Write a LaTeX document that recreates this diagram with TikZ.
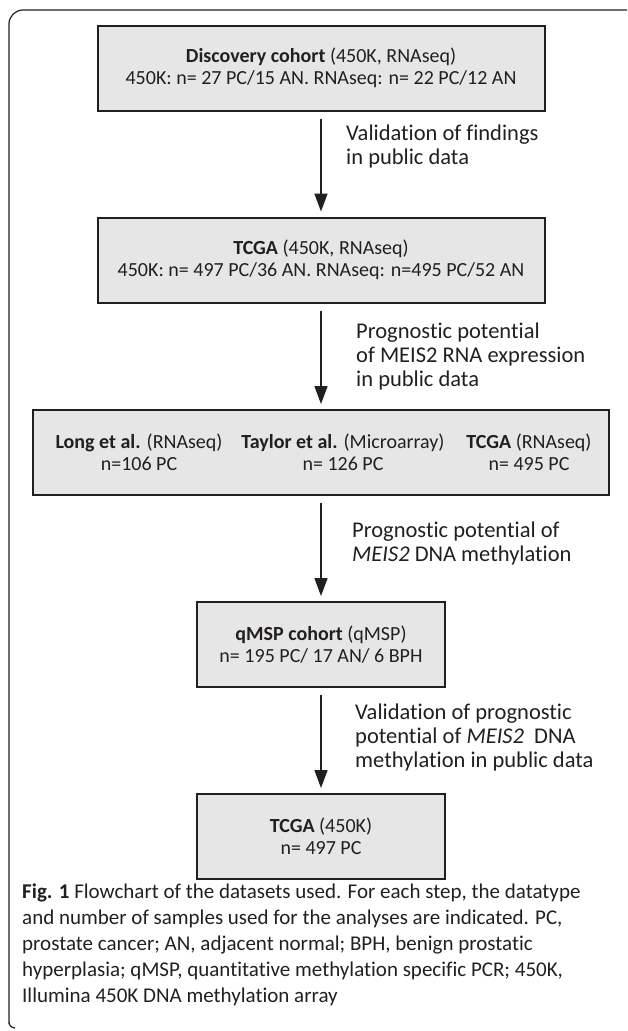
\documentclass[tikz,border=0pt]{standalone}
\usepackage{fontspec}
\setmainfont{Carlito}[Ligatures=NoCommon]
\usetikzlibrary{arrows.meta}
\definecolor{boxfill}{RGB}{230,230,230}
\definecolor{ink}{RGB}{35,31,32}
\begin{document}
\begin{tikzpicture}[x=1pt,y=-1pt]
\tikzstyle{every node}+=[inner sep=0pt,text=ink,font=\fontsize{22.5}{24}\selectfont]
\tikzstyle{databox}=[draw=ink,line width=2pt,fill=boxfill,align=center,minimum height=85,font=\fontsize{20}{22}\selectfont]
\tikzstyle{flow}=[draw=ink,line width=1.6pt,-{Triangle[width=13pt,length=18pt]},shorten <=7pt,shorten >=5pt]
\tikzstyle{steptext}=[anchor=west,align=left]
\useasboundingbox (0,0) rectangle (627,1031);
\draw [ink,line width=1.2pt] (627,10) [rounded corners=14] -- (9,10) -- (9,1010) [rounded corners=6] -- (9,1028) -- (15,1028);
\node [databox,minimum width=447] (discovery) at (321,68) {\textbf{Discovery cohort} (450K, RNAseq)\\450K: n= 27 PC/15 AN. RNAseq: n= 22 PC/12 AN};
\node [databox,minimum width=447] (tcgaboth) at (321,260) {\textbf{TCGA} (450K, RNAseq)\\450K: n= 497 PC/36 AN. RNAseq: n=495 PC/52 AN};
\node [databox,minimum width=576] (publicsets) at (321,452.5) {};
\node [align=center,font=\fontsize{20}{22}\selectfont] (longset) at (139,452.5) {\textbf{Long et al.} (RNAseq)\\n=106 PC};
\node [align=center,font=\fontsize{20}{22}\selectfont] (taylorset) at (343,452.5) {\textbf{Taylor et al.} (Microarray)\\n= 126 PC};
\node [align=center,font=\fontsize{20}{22}\selectfont] (tcgarna) at (529,452.5) {\textbf{TCGA} (RNAseq)\\n= 495 PC};
\node [databox,minimum width=248] (qmsp) at (321,644.5) {\textbf{qMSP cohort} (qMSP)\\n= 195 PC/ 17 AN/ 6 BPH};
\node [databox,minimum width=248] (tcgameth) at (321,836.5) {\textbf{TCGA} (450K)\\n= 497 PC};
\draw [flow] (discovery) -- (tcgaboth);
\draw [flow] (tcgaboth) -- (publicsets);
\draw [flow] (publicsets) -- (qmsp);
\draw [flow] (qmsp) -- (tcgameth);
\node [steptext] (findings) at (346,146) {Validation of findings\\in public data};
\node [steptext] (rnaprog) at (356,356) {Prognostic potential\\of MEIS2 RNA expression\\in public data};
\node [steptext] (methprog) at (352,543) {Prognostic potential of\\\textit{MEIS2} DNA methylation};
\node [steptext] (methvalid) at (355,737) {Validation of prognostic\\potential of \textit{MEIS2}\ \ DNA\\methylation in public data};
\node [anchor=north west,align=left,font=\fontsize{21}{26}\selectfont] (caption) at (22,884) {\textbf{Fig. 1} Flowchart of the datasets used. For each step, the datatype\\and number of samples used for the analyses are indicated. PC,\\prostate cancer; AN, adjacent normal; BPH, benign prostatic\\hyperplasia; qMSP, quantitative methylation specific PCR; 450K,\\Illumina 450K DNA methylation array};
\end{tikzpicture}
\end{document}
